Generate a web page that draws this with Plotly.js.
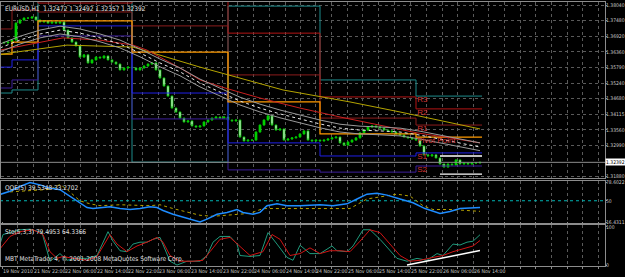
<!DOCTYPE html>
<html><head><meta charset="utf-8">
<script src="https://cdn.plot.ly/plotly-3.0.1.min.js"></script>
<style>html,body{margin:0;padding:0;background:#000;}#c{width:625px;height:277px;}</style>
</head><body><div id="c"></div>
<script>
// ---- time axis (bar index, H1 bars) ----
const tickLabelBars = [-0.5, 7.25, 15, 23, 30.75, 38.5, 46.5, 54.5, 62.25, 70.25, 77.75, 85.75, 93.5, 101.5, 109.5, 117.25];
const tickLabels = ['19 Nov 2010','21 Nov 22:00','22 Nov 06:00','22 Nov 14:00','22 Nov 22:00','23 Nov 06:00','23 Nov 14:00','23 Nov 22:00','24 Nov 06:00','24 Nov 14:00','24 Nov 22:00','25 Nov 06:00','25 Nov 14:00','25 Nov 22:00','26 Nov 06:00','26 Nov 14:00'];

// ---- price ticks ----
const priceTicks = [1.38040,1.37480,1.36920,1.36360,1.35790,1.35240,1.34680,1.34115,1.33560,1.32990,1.31880];
const priceTickText = ['1.38040','1.37480','1.36920','1.36360','1.35790','1.35240','1.34680','1.34115','1.33560','1.32990','1.31880'];
const lastPrice = 1.32392;

// ---- candles: closes per bar ----
const closes = [1.3668,1.3671,1.3678,1.3739,1.3750,1.3757,1.3757,1.3761,1.3750,1.3743,
1.3747,1.3739,1.3743,1.3739,1.3743,1.3714,1.3686,1.3671,1.3657,1.3617,
1.3625,1.3596,1.3607,1.3617,1.3614,1.3621,1.3607,1.3599,1.3592,1.3571,
1.3578,1.3581,1.3578,1.3571,1.3578,1.3585,1.3592,1.3596,1.3571,1.3542,
1.3513,1.3477,1.3434,1.3420,1.3398,1.3384,1.3388,1.3370,1.3366,1.3370,
1.3384,1.3391,1.3398,1.3402,1.3398,1.3402,1.3391,1.3388,1.3391,1.3330,
1.3316,1.3319,1.3319,1.3348,1.3373,1.3391,1.3406,1.3373,1.3355,1.3359,
1.3319,1.3323,1.3327,1.3330,1.3341,1.3352,1.3319,1.3316,1.3319,1.3316,
1.3319,1.3323,1.3327,1.3330,1.3309,1.3301,1.3312,1.3319,1.3327,1.3345,
1.3355,1.3366,1.3370,1.3366,1.3362,1.3355,1.3352,1.3348,1.3341,1.3337,
1.3330,1.3327,1.3323,1.3319,1.3298,1.3266,1.3262,1.3266,1.3255,1.3233,
1.3222,1.3233,1.3230,1.3248,1.3233,1.3237,1.3233,1.3237,1.3237,1.32392];
const wick = 0.0003;

// ---- daily pivot levels (segments start bars) ----
const segStart = [-1, 2, 8.5, 32, 56, 79, 103];
const segEnd = 119.5;
const lvlR3 = [1.3488, 1.3499, 1.3858, 1.3240, 1.3800, 1.3535, 1.3477];
const lvlR2 = [1.3858, 1.3858, 1.3811, 1.3858, 1.3703, 1.3474, 1.3431];
const lvlR1 = [1.3718, 1.3786, 1.3779, 1.3729, 1.3553, 1.3398, 1.3373];
const lvlPP = [1.3628, 1.3671, 1.3747, 1.3635, 1.3456, 1.3341, 1.3330];
const lvlS1 = [1.3581, 1.3607, 1.3729, 1.3488, 1.3309, 1.3262, 1.3273];
const lvlS2 = [1.3506, 1.3535, 1.3693, 1.3395, 1.3212, 1.3204, 1.3226];
const levNames = ['R3','R2','R1','Pivot Point','S1','S2'];

// ---- day range lines ----
const rangeBars = [109, 119.5];
const rangeHigh = 1.3262, rangeLow = 1.3197;

// ---- moving-average band ----
const maBars = [-1,4,9,14,19,24,29,34,39,44,49,54,59,64,69,74,79,84,89,94,99,104,109,114,119];
const maMid = [1.3650,1.3678,1.3700,1.3714,1.3703,1.3686,1.3664,1.3632,1.3596,1.3564,1.3524,1.3492,1.3459,1.3434,1.3413,1.3395,1.3377,1.3362,1.3355,1.3352,1.3348,1.3337,1.3323,1.3309,1.3294];
const maUp = [1.3664,1.3692,1.3714,1.3728,1.3718,1.3700,1.3678,1.3646,1.3610,1.3578,1.3538,1.3506,1.3473,1.3448,1.3427,1.3409,1.3391,1.3376,1.3369,1.3366,1.3362,1.3351,1.3337,1.3323,1.3309];
const maLo = [1.3636,1.3664,1.3686,1.3700,1.3690,1.3672,1.3650,1.3618,1.3582,1.3550,1.3510,1.3478,1.3445,1.3420,1.3399,1.3381,1.3363,1.3348,1.3341,1.3338,1.3334,1.3323,1.3309,1.3295,1.3281];
const redBars = [-1, 9, 14.75, 24, 32.25, 35.75, 44, 49, 55.25, 64, 74, 84, 94, 103.25, 111.5, 119];
const redMA = [1.3642, 1.3671, 1.3686, 1.3678, 1.3660, 1.3642, 1.3578, 1.3535, 1.3506, 1.3470, 1.3434, 1.3402, 1.3373, 1.3345, 1.3327, 1.3309];
const yelBars = [-1, 1.5, 15.75, 32.25, 49, 69.75, 86.5, 99, 119];
const yelMA = [1.3625, 1.3632, 1.3660, 1.3653, 1.3581, 1.3499, 1.3456, 1.3420, 1.3359];

// ---- QQE ----
const qqeBars = [-1,1.5,4,6.5,9,11.5,14,15.75,18.25,20.75,22.25,24,26.5,29,31.5,34,36.5,38.25,39.75,42.25,45.75,49,50.75,53.25,55.75,58.25,59.75,62.25,64,65.75,68.25,70.75,74,79,82.25,85.75,88.25,90.75,93.25,95.75,99,102.25,105.25,109,111.5,114,119];
const qqeMain = [60,65,72.5,78.6,75.1,70,67.5,60.4,49.8,39.2,37.7,39.2,40.7,37.7,36.2,37.7,40.7,39.2,34.6,28.6,22.5,16.4,21,28.6,31.6,36.2,31.6,28.6,31.6,42.2,45.2,42.2,42.2,43.7,42.2,45.2,52.8,60.4,61.9,58.9,52.8,46.8,37.7,30.1,33.1,37.7,39.53];
const qqeSigBars = [1.5,4,11.5,14,15.75,19,21.5,24,29,36.5,39,42.25,45.75,49,52.25,57.25,61.5,64.75,74,86.5,90.75,97.25,98.25,101.5,104.75,107.25,111.5,115.75,119];
const qqeSig = [64,65,68,75.6,68,49.8,45.2,42.2,43.7,42.2,43.7,37.7,31.6,27.1,25.5,28.6,30.1,37.7,37.7,37.7,52.8,58.9,60.4,57.4,42.2,36.2,36.2,34.6,33.27];
const qqeLevel = 50;

// ---- Stochastic ----
const stoBars = [-1,-0.25,1.5,4,6.5,9.5,11.5,13.25,14,15.75,18.25,20.75,23.25,26,27.25,29,30.75,32.25,34,35.75,37.25,39,40.75,41.5,43.25,45.75,49,50.75,52.25,54,56.5,58.25,59,61.5,64,66,68.25,70.75,72.25,74,76.5,79,82,83.25,85.75,87.25,89.75,91.5,94,96.5,98.25,100.75,103.25,105.75,108.25,109.75,112.25,114,115.75,117.25,119];
const stoMain = [55,80,85,92.5,94,85,10,22.5,30,12.5,17.5,17.5,25,87.5,62.5,37.5,35,55,60,60,67.5,72.5,25,10,0,10,10,25,60,75,75,55,25,22.5,25,85,55,20,12.5,52,30,30,50,37.5,35,50,92.5,92.5,67.5,37.5,17.5,10,17.5,12.5,30,25,55,52.5,60,62.5,79.5];
const sigBars = [-1,1.5,4,7.25,9.75,11.5,13.25,14.75,17.25,20.75,23.25,24.75,26.5,28.25,30.75,33.25,35.75,38.25,39.75,41.5,44,47.25,49.75,51.5,54,56.5,59,61.5,64.75,67,69,71.5,74,76.5,79,81.5,84,86.5,89,91.5,94,96.5,99,101.5,104,107.25,109.75,112.25,114.75,117.25,119];
const stoSig = [42.5,75,87.5,92.5,80,35,17.5,22.5,17.5,12.5,22.5,47.5,80,55,35,50,60,72.5,60,25,10,10,12.5,35,67.5,72.5,50,25,35,80,67.5,25,30,45,30,37.5,37.5,35,62.5,92.5,85,55,25,10,12.5,20,25,35,42.5,50,64.34];
const trendBars = [100.75, 119];
const trendVals = [0, 38];

// ================= build =================
const bars = closes.map((c,i)=>i);
const opens = closes.map((c,i)=> i===0 ? c+0.0002 : closes[i-1]);
const highs = closes.map((c,i)=> Math.max(c,opens[i]) + wick);
const lows  = closes.map((c,i)=> Math.min(c,opens[i]) - wick);

function stepX(){ return segStart.concat([segEnd]); }
function stepY(l){ return l.concat([l[l.length-1]]); }
function stepTrace(l, color, width, dash){
  return {type:'scatter', mode:'lines', x:stepX(), y:stepY(l), line:{shape:'hv', color, width, dash:dash||'solid'}, xaxis:'x', yaxis:'y', hoverinfo:'skip'};
}
function line(x,y,color,width,dash,ya){
  return {type:'scatter', mode:'lines', x, y, line:{color, width, dash:dash||'solid'}, xaxis:'x', yaxis:ya||'y', hoverinfo:'skip'};
}
const levVals = [lvlR3, lvlR2, lvlR1, lvlPP, lvlS1, lvlS2];
const lastSeg = segStart[segStart.length-1];

const traces = [
  stepTrace(lvlR3, '#1d8c8c', 1),
  stepTrace(lvlR2, '#b41414', 1),
  stepTrace(lvlR1, '#8c1c1c', 1),
  stepTrace(lvlS2, '#3c1e9a', 1),
  stepTrace(lvlS1, '#1f1fe6', 1),
  stepTrace(lvlPP, '#ff9a00', 1.3),
  line(yelBars, yelMA, '#b4a400', 1),
  line(redBars, redMA, '#c82020', 1),
  line(maBars, maUp, '#9a9a9a', 1),
  line(maBars, maLo, '#9a9a9a', 1),
  line(maBars, maMid, '#e8e8e8', 1, 'dot'),
  line(rangeBars, [rangeHigh, rangeHigh], '#ffffff', 1.3),
  line(rangeBars, [rangeLow, rangeLow], '#ffffff', 1.3),
  {type:'candlestick', x:bars, open:opens, high:highs, low:lows, close:closes,
   increasing:{line:{color:'#00c800', width:0.8}, fillcolor:'#00e000'},
   decreasing:{line:{color:'#00b400', width:0.8}, fillcolor:'#e8ffe8'},
   whiskerwidth:0, xaxis:'x', yaxis:'y', hoverinfo:'skip'},
  {type:'scatter', mode:'text', x:levNames.map(()=>lastSeg+0.3), y:levVals.map(l=>l[l.length-1]),
   text:levNames, textposition:'bottom right', textfont:{size:8, color:'#d23232', family:'Liberation Sans, Arial, sans-serif'},
   xaxis:'x', yaxis:'y', hoverinfo:'skip', cliponaxis:false},
  line([-1, 151], [qqeLevel, qqeLevel], '#00b4b4', 1, 'dot', 'y2'),
  line(qqeSigBars, qqeSig, '#b4a000', 1, 'dot', 'y2'),
  line(qqeBars, qqeMain, '#1e8cff', 1.5, 'solid', 'y2'),
  line(stoBars, stoMain, '#1f9a7c', 1, 'solid', 'y3'),
  line(sigBars, stoSig, '#d01414', 1, 'solid', 'y3'),
  line(trendBars, trendVals, '#ffffff', 1.5, 'solid', 'y3')
];

// grid = labelled times plus midpoints
const gridVals = [];
const gridText = [];
for (let k=0;k<tickLabelBars.length;k++){
  gridVals.push(tickLabelBars[k]); gridText.push(tickLabels[k]);
  const nxt = k<tickLabelBars.length-1 ? tickLabelBars[k+1] : tickLabelBars[k]+7.85;
  gridVals.push((tickLabelBars[k]+nxt)/2); gridText.push('');
}
let g = tickLabelBars[tickLabelBars.length-1]+7.85;
while (g < 150.5){ gridVals.push(g); gridText.push(''); gridVals.push(g+3.925); gridText.push(''); g += 7.85; }

const txt = '#c8c8c8';
const fam = 'Liberation Sans Narrow, DejaVu Sans Condensed, Arial Narrow, sans-serif';
const annotations = [
  {xref:'paper', yref:'paper', x:0.004, y:0.998, xanchor:'left', yanchor:'top', showarrow:false,
   text:'EURUSD,H1  1.32472 1.32492 1.32357 1.32392', font:{size:6.5, color:'#e0e0e0', family:fam}},
  {xref:'paper', yref:'y2 domain', x:0.004, y:0.97, xanchor:'left', yanchor:'top', showarrow:false,
   text:'QQE(5) 39.5348 33.2702', font:{size:6.5, color:'#e0e0e0', family:fam}},
  {xref:'paper', yref:'y3 domain', x:0.004, y:0.97, xanchor:'left', yanchor:'top', showarrow:false,
   text:'Sto(5,3,3) 79.4953 64.3366', font:{size:6.5, color:'#e0e0e0', family:fam}},
  {xref:'paper', yref:'y3 domain', x:0.004, y:0.03, xanchor:'left', yanchor:'bottom', showarrow:false,
   text:'MBT MetaTrader 4, © 2001-2008 MetaQuotes Software Corp.', font:{size:6.5, color:'#e0e0e0', family:fam}},
  {xref:'paper', yref:'y', x:1, y:lastPrice, xanchor:'left', yanchor:'middle', xshift:0, showarrow:false,
   text:'1.32392', bgcolor:'#ffffff', borderpad:0, font:{size:5, color:'#000000', family:fam}}
];

const axBase = {showline:true, linecolor:'#8c8c8c', linewidth:1, mirror:true, zeroline:false, fixedrange:true,
  tickfont:{size:5, color:txt, family:fam}, ticks:'outside', ticklen:1, tickcolor:'#8c8c8c', ticklabelstandoff:-2};

const layout = {
  width:625, height:277,
  paper_bgcolor:'#000000', plot_bgcolor:'#000000',
  margin:{l:1, r:20, t:2, b:11},
  showlegend:false,
  font:{family:fam, color:txt},
  xaxis:Object.assign({}, axBase, {domain:[0,1], range:[-0.75,150.25], anchor:'y3', mirror:'all',
    tickmode:'array', tickvals:gridVals, ticktext:gridText, ticklabelposition:'outside right',
    tickangle:0, ticklen:2, ticklabelstandoff:0, tickfont:{size:5.2, color:txt, family:fam},
    showgrid:true, gridcolor:'#5a5a5a', griddash:'dot', gridwidth:1,
    rangeslider:{visible:false}}),
  yaxis:Object.assign({}, axBase, {domain:[0.3333,1], range:[1.31829,1.38148], side:'right', anchor:'x',
    tickmode:'array', tickvals:priceTicks, ticktext:priceTickText,
    showgrid:true, gridcolor:'#5a5a5a', griddash:'dot', gridwidth:1}),
  yaxis2:Object.assign({}, axBase, {domain:[0.1629,0.3220], range:[14.9,81.2], side:'right', anchor:'x',
    tickmode:'array', tickvals:[78.6022,50,16.4311], ticktext:['78.6022','50','16.4311'], showgrid:false}),
  yaxis3:Object.assign({}, axBase, {domain:[0,0.1553], range:[-2.5,105], side:'right', anchor:'x',
    tickmode:'array', tickvals:[100,0], ticktext:['100','0'], showgrid:false}),
  shapes:[
    {type:'line', xref:'x domain', yref:'y', x0:0, x1:1, y0:lastPrice, y1:lastPrice, line:{color:'#8c8c8c', width:1}}
  ],
  annotations
};

Plotly.newPlot('c', traces, layout, {staticPlot:true, displayModeBar:false});
</script>
</body></html>
